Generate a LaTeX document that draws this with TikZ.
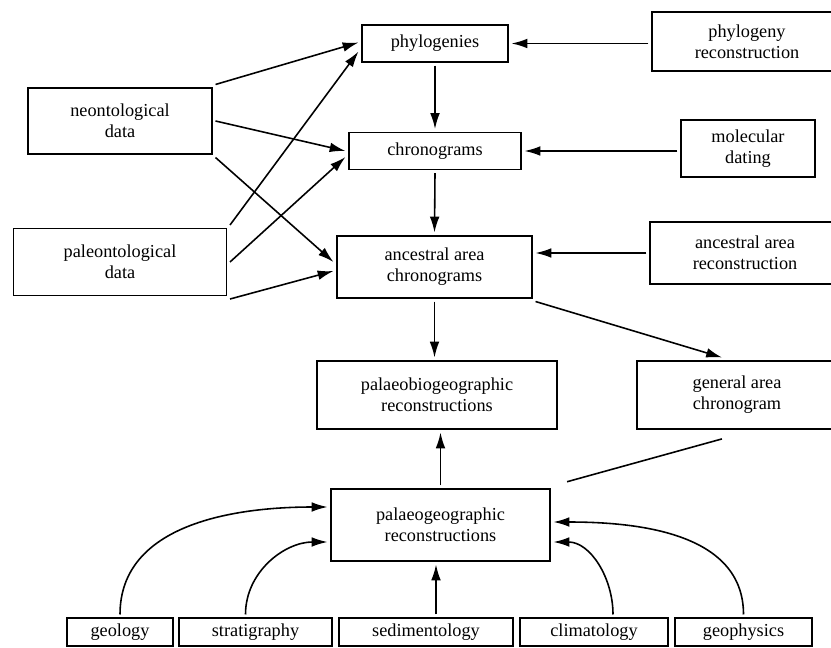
\documentclass[tikz,border=0pt]{standalone}
\usepackage{fontspec}
\setmainfont{Liberation Serif}
\usepackage{tikz}
\usetikzlibrary{arrows.meta, calc}

\begin{document}
\begin{tikzpicture}[x=0.02cm, y=-0.02cm,
  box/.style={draw, line width=0.9pt, align=center, inner sep=0pt, outer sep=2pt, font=\rmfamily\fontsize{10.4}{12}\selectfont},
  arrow/.style={-{Latex[length=9pt, width=5.5pt]}, line width=0.9pt}
]
  \useasboundingbox (0,0) rectangle (831,648);
  % left column
  \node[box, minimum width=184*0.02cm, minimum height=66*0.02cm] (neo) at (120,121) {neontological\\data};
  \node[box, minimum width=213*0.02cm, minimum height=67*0.02cm] (paleo) at (120,262) {paleontological\\data};
  % middle column
  \node[box, minimum width=146*0.02cm, minimum height=37*0.02cm] (phylo) at (435,43.5) {phylogenies};
  \node[box, minimum width=172*0.02cm, minimum height=37*0.02cm] (chrono) at (435,151) {chronograms};
  \node[box, minimum width=195*0.02cm, minimum height=62*0.02cm] (anc) at (434.5,267) {ancestral area\\chronograms};
  \node[box, minimum width=240*0.02cm, minimum height=68*0.02cm] (pbio) at (437,395) {palaeobiogeographic\\reconstructions};
  \node[box, minimum width=219*0.02cm, minimum height=72*0.02cm] (pgeo) at (440.5,525) {palaeogeographic\\reconstructions};
  % right column
  \node[box, minimum width=190*0.02cm, minimum height=59*0.02cm] (phyrec) at (747,41.5) {phylogeny\\reconstruction};
  \node[box, minimum width=134*0.02cm, minimum height=57*0.02cm] (molec) at (748,148.5) {molecular\\dating};
  \node[box, minimum width=190*0.02cm, minimum height=62*0.02cm] (ancrec) at (745,253) {ancestral area\\reconstruction};
  \node[box, minimum width=200*0.02cm, minimum height=68*0.02cm] (genchr) at (737,395) {general area\\chronogram};
  % bottom row
  \node[box, minimum width=106*0.02cm, minimum height=28*0.02cm] (geol) at (120,632) {geology};
  \node[box, minimum width=153*0.02cm, minimum height=28*0.02cm] (strat) at (255.5,632) {stratigraphy};
  \node[box, minimum width=174*0.02cm, minimum height=28*0.02cm] (sedi) at (426,632) {sedimentology};
  \node[box, minimum width=148*0.02cm, minimum height=28*0.02cm] (clim) at (594,632) {climatology};
  \node[box, minimum width=137*0.02cm, minimum height=28*0.02cm] (geoph) at (743.5,632) {geophysics};

  % data inputs
  \draw[arrow] (neo.north east) -- ($(phylo.west)+(0,-1)$);
  \draw[arrow] (neo.east) -- (chrono.west);
  \draw[arrow] (neo.south east) -- ($(anc.west)+(0,-5)$);
  \draw[arrow] (paleo.north east) -- ($(phylo.west)+(0,8)$);
  \draw[arrow] (paleo.east) -- ($(chrono.west)+(0,6)$);
  \draw[arrow] (paleo.south east) -- ($(anc.west)+(0,4)$);
  % methods
  \draw[arrow] (phyrec.west |- phylo.east) -- (phylo.east);
  \draw[arrow] (molec.west |- chrono.east) -- (chrono.east);
  \draw[arrow] (ancrec.west) -- (anc.east |- ancrec.west);
  % main chain
  \draw[arrow] (phylo.south) -- (chrono.north);
  \draw[arrow] (chrono.south) -- (anc.north);
  \draw[arrow] (anc.south) -- (anc.south |- pbio.north);
  \draw[arrow] (anc.south east) -- ($(genchr.north)+(-15,0)$);
  \draw[arrow] (pgeo.north) -- (pgeo.north |- pbio.south);
  \draw[line width=0.9pt, shorten <=8pt, shorten >=3pt] (pgeo.north east) -- ($(genchr.south)+(-10,5)$);
  % disciplines
  \coordinate (sedtop) at ($(sedi.north)+(10,0)$);
  \draw[arrow] (geol.north) to[out=90, in=180] ($(pgeo.west)+(0,-18)$);
  \draw[arrow] ($(strat.north)+(-10,0)$) to[out=90, in=180] ($(pgeo.west)+(0,17)$);
  \draw[arrow] (sedtop) -- (sedtop |- pgeo.south);
  \draw[arrow] ($(clim.north)+(19,0)$) to[out=90, in=0] ($(pgeo.east)+(0,17)$);
  \draw[arrow] (geoph.north) to[out=90, in=0] ($(pgeo.east)+(0,-3)$);
\end{tikzpicture}
\end{document}
